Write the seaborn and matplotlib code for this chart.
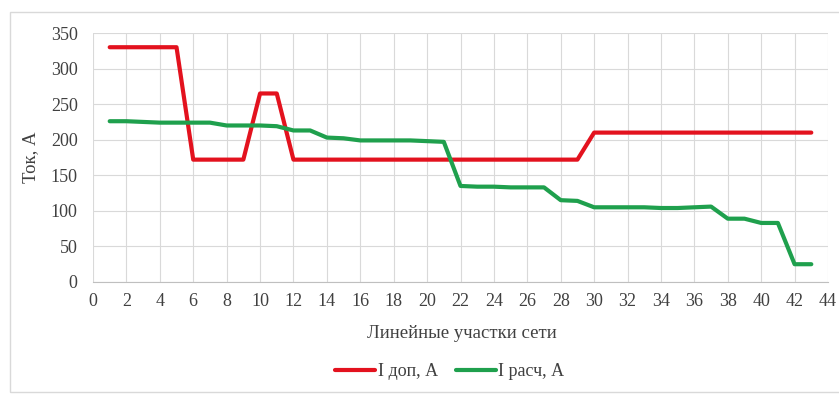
import numpy as np
import pandas as pd
import matplotlib.pyplot as plt
import seaborn as sns
from matplotlib.patches import Rectangle

# Участки сети 1..43
sections = list(range(1, 44))

i_dop = [330, 330, 330, 330, 330, 172, 172, 172, 172, 265,
         265, 172, 172, 172, 172, 172, 172, 172, 172, 172,
         172, 172, 172, 172, 172, 172, 172, 172, 172, 210,
         210, 210, 210, 210, 210, 210, 210, 210, 210, 210,
         210, 210, 210]

i_rasch = [226, 226, 225, 224, 224, 224, 224, 220, 220, 220,
           219, 213, 213, 203, 202, 199, 199, 199, 199, 198,
           197, 135, 134, 134, 133, 133, 133, 115, 114, 105,
           105, 105, 105, 104, 104, 105, 106, 89, 89, 83,
           83, 25, 25]

series_names = ["I доп, А", "I расч, А"]
colors = ["#E3121E", "#1FA04D"]

x_ticks = list(range(0, 45, 2))
y_ticks = list(range(0, 351, 50))

df = pd.DataFrame({"x": sections, series_names[0]: i_dop, series_names[1]: i_rasch})
df = df.melt(id_vars="x", var_name="series", value_name="value")

sns.set_style("whitegrid", {"grid.color": "#D9D9D9", "axes.edgecolor": "#BFBFBF"})
plt.rcParams["font.family"] = ["Liberation Serif", "DejaVu Serif"]
txt_color = "#404040"

fig = plt.figure(figsize=(8.39, 4.03), dpi=100)
ax = fig.add_axes([93 / 839, 1 - 282 / 403, (828 - 93) / 839, (282 - 33) / 403])

# рамка вокруг диаграммы
fig.patches.append(Rectangle((10 / 839, 1 - 392 / 403), 835 / 839, (392 - 12) / 403,
                             transform=fig.transFigure, fill=False,
                             edgecolor="#D9D9D9", linewidth=1))

sns.lineplot(data=df, x="x", y="value", hue="series", palette=colors,
             linewidth=3, ax=ax, legend=False)

ax.set_xlim(0, 44)
ax.set_ylim(0, 350)
ax.set_xticks(x_ticks)
ax.set_yticks(y_ticks)
ax.tick_params(axis="both", labelsize=13, colors=txt_color, length=0)
ax.tick_params(axis="y", pad=11)
ax.tick_params(axis="x", pad=8)
for s in ["top", "right", "left"]:
    ax.spines[s].set_visible(False)
ax.spines["bottom"].set_color("#BFBFBF")

ax.set_xlabel("Линейные участки сети", fontsize=13.5, color=txt_color)
ax.set_ylabel("Ток, А", fontsize=13.5, color=txt_color)
ax.xaxis.set_label_coords(462 / 839, 1 - 333 / 403, transform=fig.transFigure)
ax.yaxis.set_label_coords(31 / 839, 1 - 157 / 403, transform=fig.transFigure)
ax.xaxis.label.set_va("center")
ax.yaxis.label.set_va("center")

handles = [plt.Line2D([], [], color=c, linewidth=3) for c in colors]
fig.legend(handles, series_names, loc="center", ncol=2, frameon=False,
           bbox_to_anchor=(450 / 839, 1 - 372 / 403), fontsize=13,
           handlelength=2.2, handletextpad=0.15, columnspacing=1.0,
           labelcolor=txt_color)

fig.savefig("out.png", dpi=100)
